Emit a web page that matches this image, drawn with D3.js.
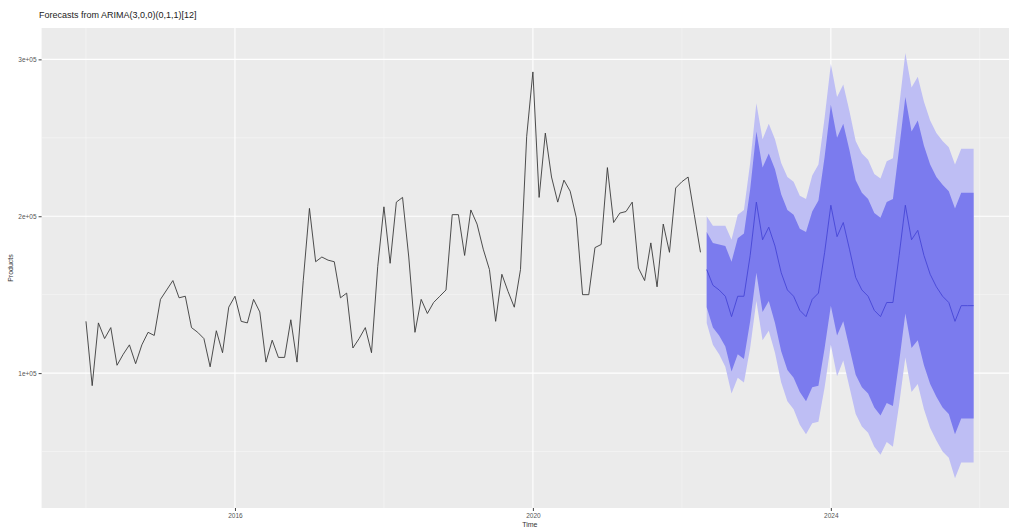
<!DOCTYPE html>
<html>
<head>
<meta charset="utf-8">
<script src="https://cdn.jsdelivr.net/npm/d3@7"></script>
<style>
  html, body { margin: 0; padding: 0; background: #ffffff; }
  svg { display: block; font-family: "Liberation Sans", Arial, sans-serif; }
</style>
</head>
<body>
<svg id="chart" width="1009" height="529"></svg>
<script>
// ---- data (values in thousands) ----
const startYear = 2014;            // first observation: Jan 2014, monthly
const historyValues = [
  133,92,132,122,129,105,112,118,106,118,
  126,124,147,153,159,148,149,129,126,122,
  104,127,113,142,149,133,132,147,139,107,
  121,110,110,134,107,159,205,171,174,172,
  171,148,151,116,122,129,113,168,206,170,
  209,212,174,126,147,138,145,149,153,201,
  201,175,204,195,179,166,133,163,152,142,
  166,251,292,212,253,225,209,223,216,199,
  150,150,180,182,231,196,202,203,209,167,
  159,183,155,195,177,218,222,225,201,177
];
const forecastMean = [
  166,156,153,149,136,149,149,175,209,185,193,181,
  164,153,149,140,136,147,151,177,207,187,196,179,
  161,153,149,140,136,145,145,175,207,185,191,175,
  163,155,149,145,133,143,143,143
];
const lo80 = [
  142,129,124,117,101,112,109,133,164,139,146,132,
  114,102,97,88,82,91,92,116,143,124,133,116,
  99,91,87,78,73,81,79,107,138,116,121,105,
  93,85,78,74,61,71,71,71
];
const hi80 = [
  190,183,182,181,171,186,189,217,254,231,240,230,
  214,204,201,192,190,203,210,238,271,250,259,242,
  223,215,211,202,199,209,211,243,276,254,261,245,
  233,225,220,216,205,215,215,215
];
const lo95 = [
  132,118,112,104,87,97,94,116,146,121,127,113,
  94,82,77,67,61,68,69,91,118,98,108,91,
  74,66,62,53,48,56,53,80,110,88,93,77,
  65,57,50,46,33,43,43,43
];
const hi95 = [
  200,194,194,194,185,201,204,234,272,249,259,249,
  234,225,222,213,211,226,233,263,297,276,284,267,
  248,240,236,227,224,235,237,270,304,282,289,273,
  261,253,248,244,233,243,243,243
];
const yTickValues = [100, 200, 300];
const yTickLabels = ["1e+05", "2e+05", "3e+05"];
const xTickValues = [2016, 2020, 2024];
const xTickLabels = ["2016", "2020", "2024"];
const titleText = "Forecasts from ARIMA(3,0,0)(0,1,1)[12]";
const xTitle = "Time";
const yTitle = "Products";

// ---- layout ----
const W = 1009, H = 529;
const panel = { left: 41.6, right: 1018, top: 28, bottom: 508 };

const svg = d3.select("#chart");

const nHist = historyValues.length;
const histData = historyValues.map((v, i) => ({ t: startYear + i / 12, v }));
const fcData = forecastMean.map((v, i) => ({
  t: startYear + (nHist + i) / 12, m: v,
  l80: lo80[i], h80: hi80[i], l95: lo95[i], h95: hi95[i]
}));

const tMin = histData[0].t, tMax = fcData[fcData.length - 1].t;
const pad = (tMax - tMin) * 0.05;
const x = d3.scaleLinear().domain([tMin - pad, tMax + pad]).range([panel.left, panel.right]);
const y = d3.scaleLinear().domain([14, 320]).range([panel.bottom, panel.top]);

// panel background
svg.append("rect")
  .attr("x", panel.left).attr("y", panel.top)
  .attr("width", panel.right - panel.left).attr("height", panel.bottom - panel.top)
  .attr("fill", "#EBEBEB");

const clip = svg.append("clipPath").attr("id", "pclip").append("rect")
  .attr("x", panel.left).attr("y", panel.top)
  .attr("width", panel.right - panel.left).attr("height", panel.bottom - panel.top);

const g = svg.append("g").attr("clip-path", "url(#pclip)");

// minor gridlines
const yMinor = [50, 150, 250];
const xMinor = [2014, 2018, 2022, 2026];
g.selectAll(".ymin").data(yMinor).enter().append("line")
  .attr("x1", panel.left).attr("x2", panel.right)
  .attr("y1", d => y(d)).attr("y2", d => y(d))
  .attr("stroke", "#F7F7F7").attr("stroke-width", 0.6);
g.selectAll(".xmin").data(xMinor).enter().append("line")
  .attr("y1", panel.top).attr("y2", panel.bottom)
  .attr("x1", d => x(d)).attr("x2", d => x(d))
  .attr("stroke", "#F7F7F7").attr("stroke-width", 0.6);
// major gridlines
g.selectAll(".ymaj").data(yTickValues).enter().append("line")
  .attr("x1", panel.left).attr("x2", panel.right)
  .attr("y1", d => y(d)).attr("y2", d => y(d))
  .attr("stroke", "#FFFFFF").attr("stroke-width", 1.1);
g.selectAll(".xmaj").data(xTickValues).enter().append("line")
  .attr("y1", panel.top).attr("y2", panel.bottom)
  .attr("x1", d => x(d)).attr("x2", d => x(d))
  .attr("stroke", "#FFFFFF").attr("stroke-width", 1.1);

// history line
g.append("path").datum(histData)
  .attr("fill", "none").attr("stroke", "#3a3a3a").attr("stroke-width", 0.9)
  .attr("d", d3.line().x(d => x(d.t)).y(d => y(d.v)));

// forecast bands
g.append("path").datum(fcData)
  .attr("fill", "#BEBEF4")
  .attr("d", d3.area().x(d => x(d.t)).y0(d => y(d.l95)).y1(d => y(d.h95)));
g.append("path").datum(fcData)
  .attr("fill", "#7B7BEE")
  .attr("d", d3.area().x(d => x(d.t)).y0(d => y(d.l80)).y1(d => y(d.h80)));
g.append("path").datum(fcData)
  .attr("fill", "none").attr("stroke", "#4646D6").attr("stroke-width", 0.9)
  .attr("d", d3.line().x(d => x(d.t)).y(d => y(d.m)));

// axes
const yAxis = d3.axisLeft(y).tickValues(yTickValues)
  .tickFormat((d, i) => yTickLabels[i]).tickSize(3).tickPadding(2);
const ya = svg.append("g").attr("transform", `translate(${panel.left},0)`).call(yAxis);
ya.select(".domain").remove();
ya.selectAll(".tick line").attr("stroke", "#444");
ya.selectAll(".tick text").attr("fill", "#555").attr("font-size", 6.5)
  .attr("font-family", "Liberation Sans, Arial, sans-serif");

const xAxis = d3.axisBottom(x).tickValues(xTickValues)
  .tickFormat((d, i) => xTickLabels[i]).tickSize(3).tickPadding(2);
const xa = svg.append("g").attr("transform", `translate(0,${panel.bottom})`).call(xAxis);
xa.select(".domain").remove();
xa.selectAll(".tick line").attr("stroke", "#444");
xa.selectAll(".tick text").attr("fill", "#555").attr("font-size", 6.5)
  .attr("font-family", "Liberation Sans, Arial, sans-serif");

// titles
svg.append("text").attr("x", 39).attr("y", 18)
  .attr("font-size", 9).attr("fill", "#222").text(titleText);
svg.append("text").attr("x", (panel.left + panel.right) / 2).attr("y", 527)
  .attr("text-anchor", "middle").attr("font-size", 7).attr("fill", "#333").text(xTitle);
svg.append("text")
  .attr("transform", `translate(13,${(panel.top + panel.bottom) / 2}) rotate(-90)`)
  .attr("text-anchor", "middle").attr("font-size", 7).attr("fill", "#333").text(yTitle);
</script>
</body>
</html>
